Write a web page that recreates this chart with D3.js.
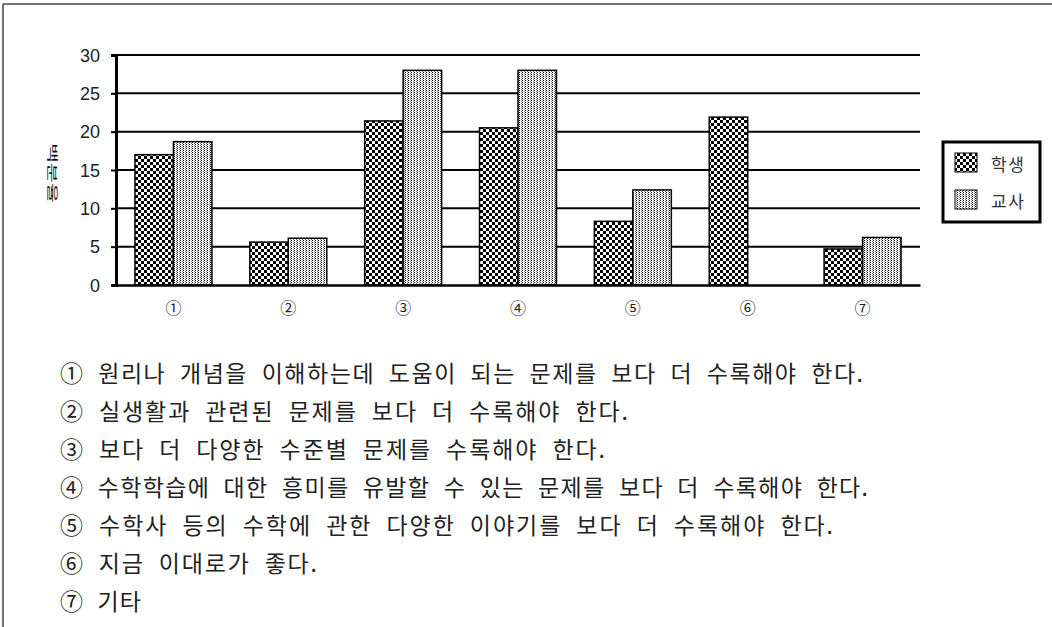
<!DOCTYPE html>
<html><head><meta charset="utf-8">
<script src="https://cdn.jsdelivr.net/npm/d3@7"></script>
<style>
html,body{margin:0;padding:0;background:#fff;}
svg{display:block;}
</style></head>
<body>
<svg id="chart" width="1052" height="627"></svg>
<script>
const categories = ["①","②","③","④","⑤","⑥","⑦"];
const seriesNames = ["학생","교사"];
const studentValues = [17.0, 5.6, 21.4, 20.5, 8.3, 21.9, 4.7];
const teacherValues = [18.7, 6.1, 28.0, 28.0, 12.4, 0, 6.2];
const yTicks = [0,5,10,15,20,25,30];
const yTitle = "백분율";
const notes = [
  "① 원리나 개념을 이해하는데 도움이 되는 문제를 보다 더 수록해야 한다.",
  "② 실생활과 관련된 문제를 보다 더 수록해야 한다.",
  "③ 보다 더 다양한 수준별 문제를 수록해야 한다.",
  "④ 수학학습에 대한 흥미를 유발할 수 있는 문제를 보다 더 수록해야 한다.",
  "⑤ 수학사 등의 수학에 관한 다양한 이야기를 보다 더 수록해야 한다.",
  "⑥ 지금 이대로가 좋다.",
  "⑦ 기타"
];
// layout: right end x of each note line (layout, not data)
const noteEnds = [863, 628, 605, 868, 833, 317, 141];

const svg = d3.select("#chart");
const defs = svg.append("defs");
const pc = defs.append("pattern").attr("id","checker").attr("patternUnits","userSpaceOnUse")
  .attr("width",6).attr("height",6);
pc.append("rect").attr("width",6).attr("height",6).attr("fill","#fff");
pc.append("rect").attr("width",3).attr("height",3).attr("fill","#000");
pc.append("rect").attr("x",3).attr("y",3).attr("width",3).attr("height",3).attr("fill","#000");
const pd = defs.append("pattern").attr("id","dots").attr("patternUnits","userSpaceOnUse")
  .attr("width",3).attr("height",2);
pd.append("rect").attr("width",3).attr("height",2).attr("fill","#fff");
pd.append("rect").attr("width",1).attr("height",1).attr("fill","#000");
pd.append("rect").attr("x",2).attr("y",1).attr("width",1).attr("height",1).attr("fill","#777");
const fills = ["url(#checker)","url(#dots)"];

svg.append("line").attr("x1",3).attr("y1",4).attr("x2",1052).attr("y2",4).attr("stroke","#444").attr("stroke-width",1.5);
svg.append("line").attr("x1",3).attr("y1",4).attr("x2",3).attr("y2",627).attr("stroke","#444").attr("stroke-width",1.5);

const pLeft = 116, pRight = 920, pTop = 55, pBottom = 285;
const y = d3.scaleLinear().domain([0,30]).range([pBottom, pTop]);
const x0 = d3.scaleBand().domain(categories).range([pLeft, pRight]).paddingInner(0.33).paddingOuter(0.165);
const x1 = d3.scaleBand().domain(seriesNames).range([0, x0.bandwidth()]);

svg.append("g").selectAll("line").data(yTicks.filter(d=>d>0)).join("line")
  .attr("x1",pLeft).attr("x2",pRight).attr("y1",d=>y(d)).attr("y2",d=>y(d))
  .attr("stroke","#000").attr("stroke-width",2);

const data = categories.map((c,i)=>({cat:c, vals:[studentValues[i], teacherValues[i]]}));
const g = svg.append("g");
data.forEach(d=>{
  d.vals.forEach((v,j)=>{
    if (v<=0) return;
    g.append("rect")
      .attr("x", x0(d.cat)+x1(seriesNames[j]))
      .attr("y", y(v))
      .attr("width", x1.bandwidth())
      .attr("height", y(0)-y(v))
      .attr("fill", fills[j])
      .attr("stroke","#000").attr("stroke-width",1.5);
  });
});

const yAxis = d3.axisLeft(y).tickValues(yTicks).tickSize(5).tickPadding(11);
const ya = svg.append("g").attr("transform",`translate(${pLeft},0)`).call(yAxis);
ya.select(".domain").attr("stroke","#000").attr("stroke-width",3);
ya.selectAll(".tick line").attr("stroke","#000").attr("stroke-width",2);
ya.selectAll(".tick text").attr("font-family","'Liberation Sans', Arial, sans-serif")
  .attr("font-size",18).attr("fill","#222").attr("dy","0.35em");

const xAxis = d3.axisBottom(x0).tickSize(0).tickPadding(18);
const xa = svg.append("g").attr("transform",`translate(0,${pBottom})`).call(xAxis);
xa.select(".domain").attr("stroke","#000").attr("stroke-width",2.5);
xa.selectAll(".tick text").attr("font-family","'Noto Sans CJK KR', sans-serif")
  .attr("font-size",16).attr("fill","#222");

svg.append("text")
  .attr("transform","translate(53,173) rotate(90) scale(1,0.55)")
  .attr("text-anchor","middle").attr("dominant-baseline","central")
  .attr("font-family","'Noto Sans CJK KR', sans-serif").attr("font-size",20).attr("fill","#111")
  .attr("textLength",60).attr("lengthAdjust","spacingAndGlyphs")
  .text(yTitle);

const lg = svg.append("g");
lg.append("rect").attr("x",943).attr("y",142).attr("width",97).attr("height",80)
  .attr("fill","#fff").attr("stroke","#000").attr("stroke-width",3);
const ly = [163, 200];
seriesNames.forEach((s,i)=>{
  lg.append("rect").attr("x",955).attr("y",ly[i]-10).attr("width",22).attr("height",19)
    .attr("fill",fills[i]).attr("stroke","#000").attr("stroke-width",1);
  lg.append("text").attr("x",991).attr("y",ly[i]).attr("dominant-baseline","central")
    .attr("font-family","'Noto Sans CJK KR', sans-serif").attr("font-size",17).attr("fill","#333")
    .attr("letter-spacing",1.5)
    .text(s);
});

svg.append("g").selectAll("text").data(notes).join("text")
  .attr("x",60).attr("y",(d,i)=>372 + i*38.05)
  .attr("dominant-baseline","central")
  .attr("font-family","'Noto Sans CJK KR', sans-serif").attr("font-size",23).attr("fill","#222")
  .style("word-spacing","7px")
  .attr("textLength",(d,i)=>noteEnds[i]-60).attr("lengthAdjust","spacing")
  .text(d=>d);
</script>
</body></html>
